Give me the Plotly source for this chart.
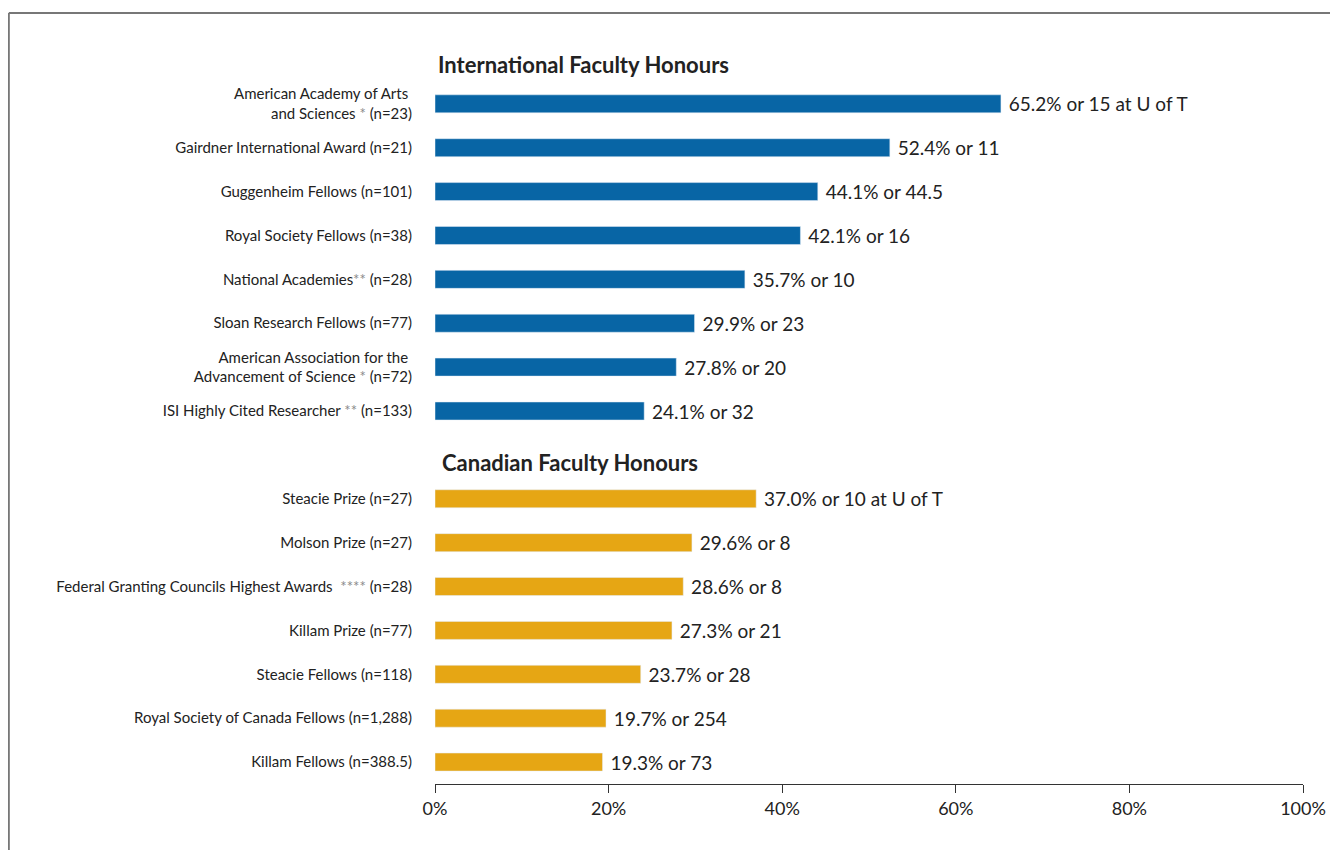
import plotly.graph_objects as go

FONT = "Lato"

intl_labels = [
    "American Academy of Arts <br>and Sciences <span style='color:#8a8a8a'>*</span> (n=23)",
    "Gairdner International Award (n=21)",
    "Guggenheim Fellows (n=101)",
    "Royal Society Fellows (n=38)",
    "National Academies<span style='color:#8a8a8a'>**</span> (n=28)",
    "Sloan Research Fellows (n=77)",
    "American Association for the <br>Advancement of Science <span style='color:#8a8a8a'>*</span> (n=72)",
    "ISI Highly Cited Researcher <span style='color:#8a8a8a'>**</span> (n=133)",
]
intl_values = [65.2, 52.4, 44.1, 42.1, 35.7, 29.9, 27.8, 24.1]
intl_text = ["65.2% or 15 at U of T", "52.4% or 11", "44.1% or 44.5", "42.1% or 16",
             "35.7% or 10", "29.9% or 23", "27.8% or 20", "24.1% or 32"]

can_labels = [
    "Steacie Prize (n=27)",
    "Molson Prize (n=27)",
    "Federal Granting Councils Highest Awards  <span style='color:#8a8a8a'>****</span> (n=28)",
    "Killam Prize (n=77)",
    "Steacie Fellows (n=118)",
    "Royal Society of Canada Fellows (n=1,288)",
    "Killam Fellows (n=388.5)",
]
can_values = [37.0, 29.6, 28.6, 27.3, 23.7, 19.7, 19.3]
can_text = ["37.0% or 10 at U of T", "29.6% or 8", "28.6% or 8", "27.3% or 21",
            "23.7% or 28", "19.7% or 254", "19.3% or 73"]

intl_title = "International Faculty Honours"
can_title = "Canadian Faculty Honours"

tick_vals = [0, 20, 40, 60, 80, 100]
tick_text = ["0%", "20%", "40%", "60%", "80%", "100%"]

BLUE = "#0865A5"
GOLD = "#E6A614"

# category slots (blank slots hold the section titles)
intl_slot = "\u200b"
can_slot = "\u200b\u200b"
cat_order = [intl_slot] + intl_labels + [can_slot] + can_labels

VAL_FONT = dict(family=FONT, size=19, color="#222")

fig = go.Figure()
fig.add_trace(go.Bar(
    y=intl_labels, x=intl_values, orientation="h", marker_color=BLUE,
    text=intl_text, texttemplate="\u00a0%{text}", textposition="outside",
    cliponaxis=False, constraintext="none", textfont=VAL_FONT, width=0.41,
    hoverinfo="x+y",
))
fig.add_trace(go.Bar(
    y=can_labels, x=can_values, orientation="h", marker_color=GOLD,
    text=can_text, texttemplate="\u00a0%{text}", textposition="outside",
    cliponaxis=False, constraintext="none", textfont=VAL_FONT, width=0.41,
    hoverinfo="x+y",
))

fig.add_annotation(x=0, y=intl_slot, xref="x", yref="y", text="<b>" + intl_title + "</b>",
                   showarrow=False, xanchor="left", yanchor="middle", xshift=1, yshift=-5,
                   font=dict(family=FONT, size=22, color="#222"))
fig.add_annotation(x=0, y=can_slot, xref="x", yref="y", text="<b>" + can_title + "</b>",
                   showarrow=False, xanchor="left", yanchor="middle", xshift=5, yshift=-8,
                   font=dict(family=FONT, size=22, color="#222"))

# frame lines (top and left)
fig.add_shape(type="line", xref="paper", yref="paper", x0=-0.491, x1=1.04, y0=1.0334, y1=1.0334,
              line=dict(color="#777", width=2))
fig.add_shape(type="line", xref="paper", yref="paper", x0=-0.491, x1=-0.491, y0=1.0334, y1=-0.1,
              line=dict(color="#777", width=2))

fig.update_layout(
    width=1330, height=842,
    margin=dict(l=427, r=24, t=30, b=66),
    paper_bgcolor="white", plot_bgcolor="white",
    showlegend=False, bargap=0.59,
    font=dict(family=FONT, color="#222"),
    xaxis=dict(range=[0, 100], tickvals=tick_vals, ticktext=tick_text,
               showgrid=False, zeroline=False, showline=True, linecolor="#333", linewidth=1,
               ticks="outside", ticklen=8, tickcolor="#333",
               tickfont=dict(family=FONT, size=18, color="#222"), fixedrange=True),
    yaxis=dict(type="category", categoryorder="array", categoryarray=cat_order,
               range=[len(cat_order) - 0.5, -0.5], showgrid=False, zeroline=False,
               showline=False, ticks="", ticklabelstandoff=22,
               tickfont=dict(family=FONT, size=15, color="#222"), fixedrange=True),
)

fig.write_html("out.html")
